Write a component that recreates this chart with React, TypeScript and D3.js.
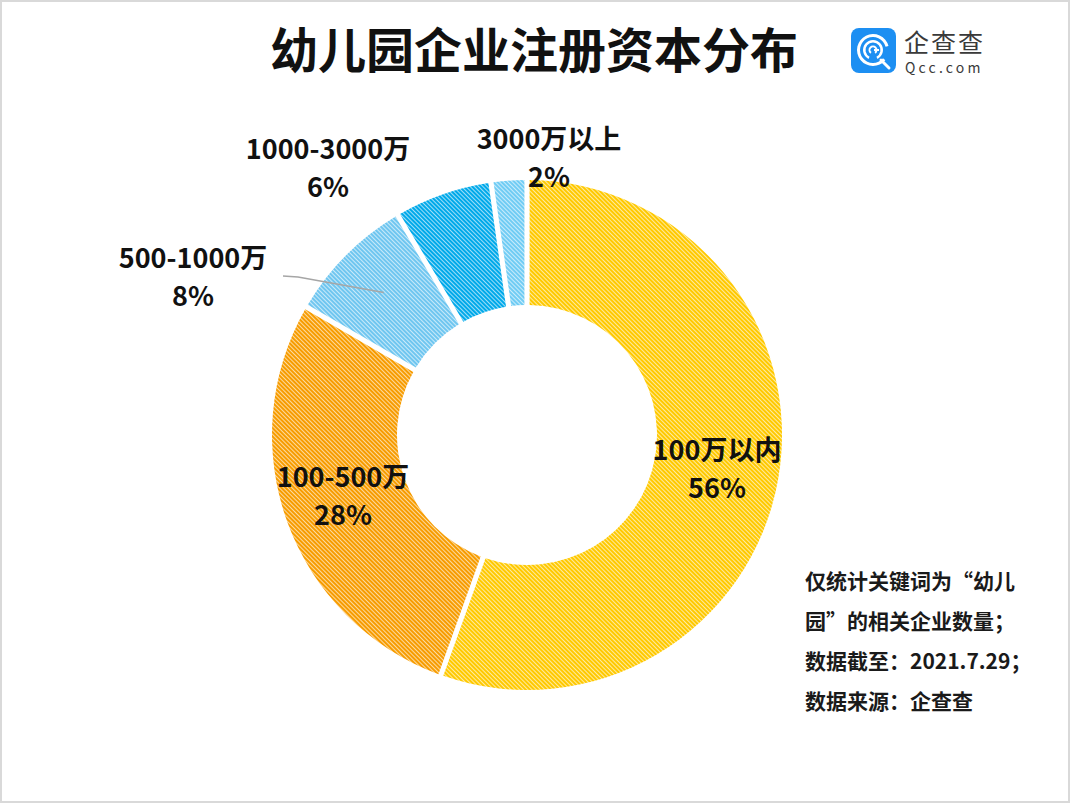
import { useEffect, useRef } from "react";
import * as d3 from "d3";

// data
const categories = ["100万以内", "100-500万", "500-1000万", "1000-3000万", "3000万以上"];
const shares = [56, 28, 8, 6, 2];
const shareLabels = ["56%", "28%", "8%", "6%", "2%"];
const sliceColors = ["#ffc900", "#f79c00", "#6fc6f0", "#00a9ea", "#70ccf4"];

const titleText = "幼儿园企业注册资本分布";
const noteLines = ["仅统计关键词为“幼儿", "园”的相关企业数量；", "数据截至：2021.7.29；", "数据来源：企查查"];

const W = 1070;
const H = 803;
const FONT = "'Noto Sans CJK SC', 'Noto Sans', sans-serif";

// where each label sits, relative to centre (x, y of first line)
const labelPos: [number, number][] = [
  [190, 25],
  [-184, 52],
  [-334, -167],
  [-199, -276],
  [22, -286],
];

const App = () => {
  const ref = useRef<SVGSVGElement>(null);

  useEffect(() => {
    const svg = d3.select(ref.current);
    svg.selectAll("*").remove();

    const cx = 527, cy = 435;
    const outerR = 255, innerR = 130;

    const defs = svg.append("defs");
    sliceColors.forEach((c, i) => {
      const p = defs.append("pattern")
        .attr("id", "hatch" + i)
        .attr("patternUnits", "userSpaceOnUse")
        .attr("width", 3)
        .attr("height", 3)
        .attr("patternTransform", "rotate(-45)");
      p.append("rect").attr("width", 3).attr("height", 3).attr("fill", c);
      p.append("line")
        .attr("x1", 0.5).attr("y1", 0).attr("x2", 0.5).attr("y2", 3)
        .attr("stroke", "#fff").attr("stroke-width", 0.9).attr("stroke-opacity", 0.7);
    });

    // frame
    svg.append("rect")
      .attr("x", 1).attr("y", 1).attr("width", W - 2).attr("height", H - 2)
      .attr("fill", "#fff").attr("stroke", "#d9d9d9").attr("stroke-width", 2);

    // title
    svg.append("text")
      .attr("x", 534).attr("y", 68)
      .attr("text-anchor", "middle")
      .attr("font-family", FONT)
      .attr("font-weight", "bold")
      .attr("font-size", 48)
      .attr("fill", "#111")
      .text(titleText);

    // logo
    const logo = svg.append("g").attr("transform", "translate(851,28)");
    logo.append("rect").attr("width", 45).attr("height", 45).attr("rx", 8).attr("fill", "#1d8ff2");
    const ring = d3.arc();
    logo.append("path")
      .attr("transform", "translate(22,22)")
      .attr("fill", "#fff")
      .attr("d", ring({ innerRadius: 13, outerRadius: 16, startAngle: Math.PI * 0.72, endAngle: Math.PI * 2.42 }) as string);
    logo.append("path")
      .attr("transform", "translate(22,22)")
      .attr("fill", "#fff")
      .attr("d", ring({ innerRadius: 7.5, outerRadius: 10, startAngle: Math.PI * 1.15, endAngle: Math.PI * 2.85 }) as string);
    logo.append("path")
      .attr("transform", "translate(22,22)")
      .attr("fill", "#fff")
      .attr("d", ring({ innerRadius: 2.5, outerRadius: 4.5, startAngle: Math.PI * 1.2, endAngle: Math.PI * 2.8 }) as string);
    logo.append("rect").attr("x", 23).attr("y", 21).attr("width", 5).attr("height", 2).attr("fill", "#fff");
    logo.append("line")
      .attr("x1", 30).attr("y1", 32).attr("x2", 38).attr("y2", 40)
      .attr("stroke", "#fff").attr("stroke-width", 3).attr("stroke-linecap", "round");
    svg.append("text")
      .attr("x", 904).attr("y", 52)
      .attr("font-family", FONT).attr("font-size", 25).attr("fill", "#3a3a3a")
      .attr("letter-spacing", 2)
      .text("企查查");
    svg.append("text")
      .attr("x", 905).attr("y", 73)
      .attr("font-family", FONT).attr("font-size", 14).attr("fill", "#3a3a3a")
      .attr("letter-spacing", 3.2)
      .text("Qcc.com");

    // donut
    const pie = d3.pie<number>().sort(null).value(d => d).padAngle(0.018);
    const arcs = pie(shares);
    const arc = d3.arc<d3.PieArcDatum<number>>().innerRadius(innerR).outerRadius(outerR);

    const g = svg.append("g").attr("transform", `translate(${cx},${cy})`);
    g.selectAll("path.slice")
      .data(arcs)
      .join("path")
      .attr("class", "slice")
      .attr("fill", (_, i) => `url(#hatch${i})`)
      .attr("d", arc);

    // leader line for 500-1000万
    const inner = d3.arc<d3.PieArcDatum<number>>().innerRadius(195).outerRadius(195);
    const [lx, ly] = inner.centroid(arcs[2]);
    g.append("polyline")
      .attr("points", `${-244},${-159} ${-229},${-158} ${lx - 5},${ly - 5}`)
      .attr("fill", "none")
      .attr("stroke", "#a6a6a6")
      .attr("stroke-width", 1.5);

    // labels
    const lab = g.append("g")
      .attr("font-family", FONT)
      .attr("font-size", 27)
      .attr("font-weight", "bold")
      .attr("fill", "#111")
      .attr("text-anchor", "middle");
    categories.forEach((c, i) => {
      const [x, y] = labelPos[i];
      const t = lab.append("text").attr("transform", `translate(${x},${y})`);
      t.append("tspan").attr("x", 0).attr("y", 0).text(c);
      t.append("tspan").attr("x", 0).attr("y", 38).text(shareLabels[i]);
    });

    // notes
    const notes = svg.append("g")
      .attr("font-family", FONT)
      .attr("font-size", 21)
      .attr("font-weight", "bold")
      .attr("fill", "#1a1a1a");
    noteLines.forEach((line, i) => {
      notes.append("text").attr("x", 805).attr("y", 589 + i * 40).text(line);
    });
  }, []);

  return (
    <div style={{ position: "absolute", left: 0, top: 0 }}>
      <svg ref={ref} width={W} height={H} style={{ display: "block" }} />
    </div>
  );
};

export default App;
